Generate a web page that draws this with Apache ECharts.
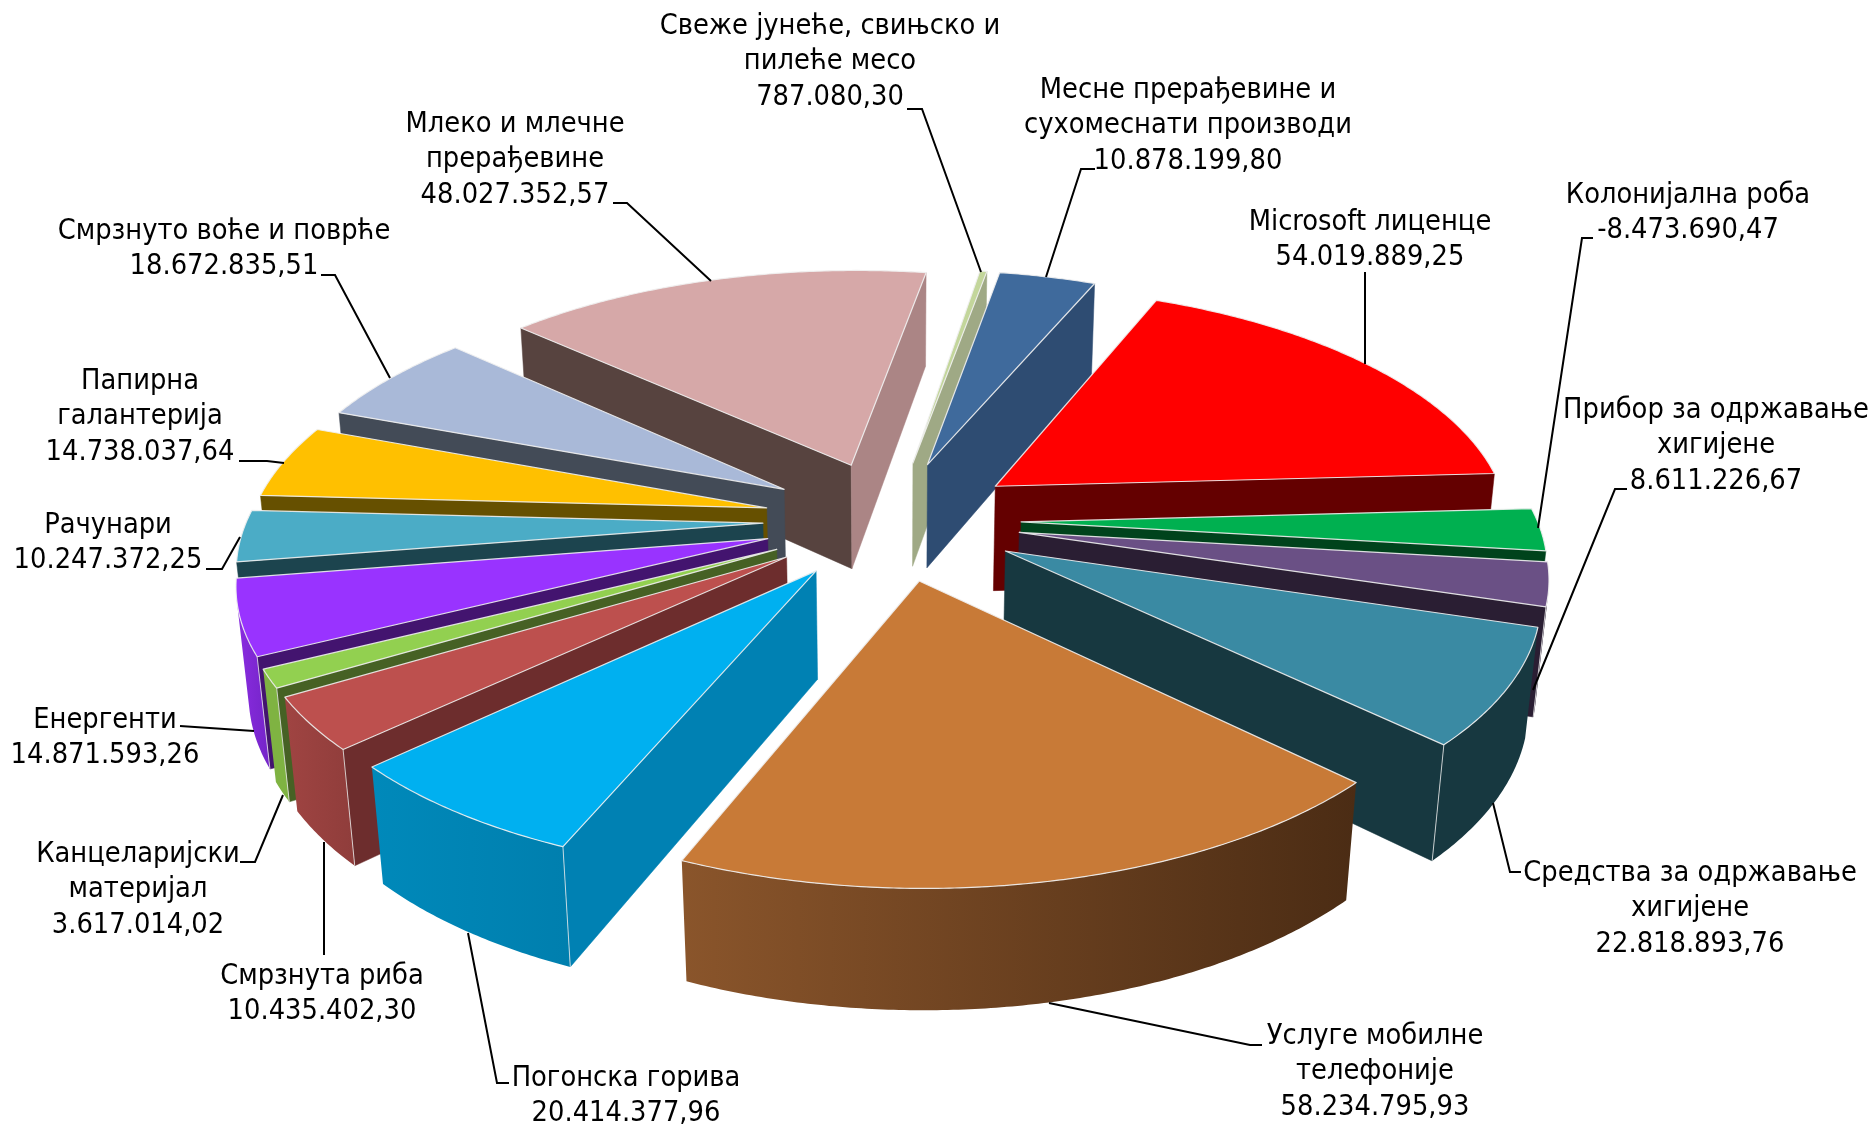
<!DOCTYPE html>
<html>
<head>
<meta charset="utf-8">
<style>html,body{margin:0;background:#fff}#main{width:1876px;height:1128px}</style>
<script src="https://cdn.jsdelivr.net/npm/echarts@6/dist/echarts.min.js"></script>
</head>
<body>
<div id="main"></div>
<script>
var categories = ['Microsoft лиценце','Колонијална роба','Прибор за одржавање\nхигијене','Средства за одржавање\nхигијене','Услуге мобилне\nтелефоније','Погонска горива','Смрзнута риба','Канцеларијски\nматеријал','Енергенти','Рачунари','Папирна\nгалантерија','Смрзнуто воће и поврће','Млеко и млечне\nпрерађевине','Свеже јунеће, свињско и\nпилеће месо','Месне прерађевине и\nсухомеснати производи'];
var values = [54019889.25,-8473690.47,8611226.67,22818893.76,58234795.93,20414377.96,10435402.30,3617014.02,14871593.26,10247372.25,14738037.64,18672835.51,48027352.57,787080.30,10878199.80];

// colours per slice
var topColors = ['#ff0000','#00b050','#6a5085','#3a8aa3','#c87a37','#00b0f0','#bd504e','#92d050','#9933ff','#4bacc6','#ffc000','#a9b9d8','#d6a8a8','#c3d69b','#3f6a9c'];
var startWall = ['#640000','#00431c','#2a1e33','#173840','#4f2e15','#0081b3','#6d2d2d','#466124','#43146f','#1c444e','#665000','#434b57','#57433f','#9fa985','#2e4c72'];
var endWall = ['#640000','#00431c','#2a1e33','#173840','#4f2e15','#0081b3','#6d2d2d','#466124','#43146f','#1c444e','#665000','#434b57','#ab8585','#9fa985','#2e4c72'];
var rimLeft = ['#640000','#00431c','#2a1e33','#173840','#8a552b','#0089ba','#a04442','#7fb342','#8a2ce0','#3a8aa0','#665000','#434b57','#57433f','#9fa985','#2e4c72'];
var rimRight = ['#640000','#00431c','#2a1e33','#173840','#4b2c14','#007fae','#8f3d3b','#7fb342','#7424c8','#3a8aa0','#665000','#434b57','#57433f','#9fa985','#2e4c72'];

// label centre and leader line for each slice, in page pixels
var labelPos = [[1370,240],[1688,213],[1716,446],[1690,909],[1375,1072],[626,1096],[322,994],[138,890],[105,738],[108,543],[140,417],[224,249],[515,160],[830,62],[1188,126]];
var leaders = [
  [[1365,272],[1365,364]],
  [[1593,238],[1582,238],[1538,528]],
  [[1627,489],[1615,489],[1533,690]],
  [[1521,872],[1510,872],[1493,803]],
  [[1262,1045],[1250,1045],[1049,1003]],
  [[509,1083],[497,1083],[468,933]],
  [[324,955],[324,842]],
  [[240,862],[255,862],[283,795]],
  [[180,726],[254,731]],
  [[206,569],[222,569],[240,537]],
  [[239,461],[267,461],[284,463]],
  [[321,275],[335,275],[390,378]],
  [[613,203],[627,203],[711,281]],
  [[907,109],[922,109],[981,272]],
  [[1095,169],[1081,169],[1046,277]]
];

// 3d view of the pie
var firstAngle = 23, radius = 516, explode = 129, depth = 122;
var cx = 892, cy = 520, tilt = 27.7 * Math.PI / 180, focal = 3000;
var sinT = Math.sin(tilt), cosT = Math.cos(tilt);
var camY = -focal * cosT, camZ = focal * sinT;

function rad(d){ return d * Math.PI / 180; }

function project(x, y, z){
  var yc = y * sinT + z * cosT;
  var zc = y * cosT - z * sinT;
  var s = focal / (focal + zc);
  return [cx + x * s, cy - yc * s];
}

function facing(nx, ny, px, py, pz){
  return nx * (0 - px) + ny * (camY - py) + 0 * (camZ - pz) > 0;
}

function formatValue(v){
  var parts = Math.abs(v).toFixed(2).split('.');
  return (v < 0 ? '-' : '') + parts[0].replace(/\B(?=(\d{3})+$)/g, '.') + ',' + parts[1];
}

var total = 0, cum = [0];
values.forEach(function(v){ total += Math.abs(v); cum.push(total); });

function renderSlice(params, api){
  var i = params.dataIndex;
  var a0 = firstAngle + cum[i] / total * 360;
  var a1 = firstAngle + (cum[i] + Math.abs(api.value(0))) / total * 360;
  var mid = (a0 + a1) / 2;
  var ox = explode * Math.sin(rad(mid)), oy = explode * Math.cos(rad(mid));
  var base = Math.round((1 - Math.cos(rad(mid))) * 1000) * 10;
  var children = [];

  function rimPt(a, z){
    return project(ox + radius * Math.sin(rad(a)), oy + radius * Math.cos(rad(a)), z);
  }
  function rimVisible(a){
    return facing(Math.sin(rad(a)), Math.cos(rad(a)), ox + radius * Math.sin(rad(a)), oy + radius * Math.cos(rad(a)), 0);
  }
  function wallVisible(a, side){
    var n = rad(a + side * 90);
    return facing(Math.sin(n), Math.cos(n), ox, oy, 0);
  }
  function wall(a, color, k){
    var pts = [project(ox, oy, 0), rimPt(a, 0), rimPt(a, -depth), project(ox, oy, -depth)];
    children.push({type:'polygon', shape:{points:pts}, style:{fill:color, stroke:color, lineWidth:0.5}, z2:base + k});
  }

  var w0 = wallVisible(a0, -1), w1 = wallVisible(a1, 1);
  if (w0) wall(a0, startWall[i], 1);
  if (w1) wall(a1, endWall[i], 1);

  // outer rim: keep only the part turned to the viewer
  var up = [], down = [], steps = Math.max(2, Math.ceil(a1 - a0) * 2);
  for (var k = 0; k <= steps; k++) {
    var a = a0 + (a1 - a0) * k / steps;
    if (rimVisible(a)) { up.push(rimPt(a, 0)); down.unshift(rimPt(a, -depth)); }
  }
  if (up.length > 1) {
    var fill = new echarts.graphic.LinearGradient(0, 0, 1, 0, [
      {offset:0, color:rimLeft[i]}, {offset:1, color:rimRight[i]}
    ]);
    children.push({type:'polygon', shape:{points:up.concat(down)}, style:{fill:fill}, z2:base + 2});
    if (w0 && rimVisible(a0)) children.push(edge(rimPt(a0, 0), rimPt(a0, -depth), base + 3));
    if (w1 && rimVisible(a1)) children.push(edge(rimPt(a1, 0), rimPt(a1, -depth), base + 3));
  }

  // top face
  var face = [project(ox, oy, 0)];
  for (var m = 0; m <= steps; m++) face.push(rimPt(a0 + (a1 - a0) * m / steps, 0));
  children.push({type:'polygon', shape:{points:face}, style:{fill:topColors[i], stroke:'rgba(240,240,240,0.9)', lineWidth:1.2, lineJoin:'round'}, z2:base + 4});

  // leader and label on top of everything
  children.push({type:'polyline', shape:{points:leaders[i]}, style:{fill:null, stroke:'#000', lineWidth:2}, z2:30000});
  children.push({type:'text', x:labelPos[i][0], y:labelPos[i][1], style:{
    text:categories[i] + '\n' + formatValue(values[i]),
    fontFamily:'"DejaVu Sans Condensed"', fontSize:28.7, lineHeight:35.5, fill:'#000', align:'center', verticalAlign:'middle'
  }, z2:30001});
  return {type:'group', children:children};
}

function edge(p, q, z2){
  return {type:'line', shape:{x1:p[0], y1:p[1], x2:q[0], y2:q[1]}, style:{stroke:'rgba(235,235,235,0.8)', lineWidth:1}, z2:z2};
}

var myChart = echarts.init(document.getElementById('main'));
var option = {
  animation:false,
  backgroundColor:'#fff',
  series:[{
    type:'custom',
    coordinateSystem:'none',
    silent:true,
    renderItem:renderSlice,
    data:values.map(function(v){ return [Math.abs(v)]; })
  }]
};
myChart.setOption(option);
</script>
</body>
</html>
